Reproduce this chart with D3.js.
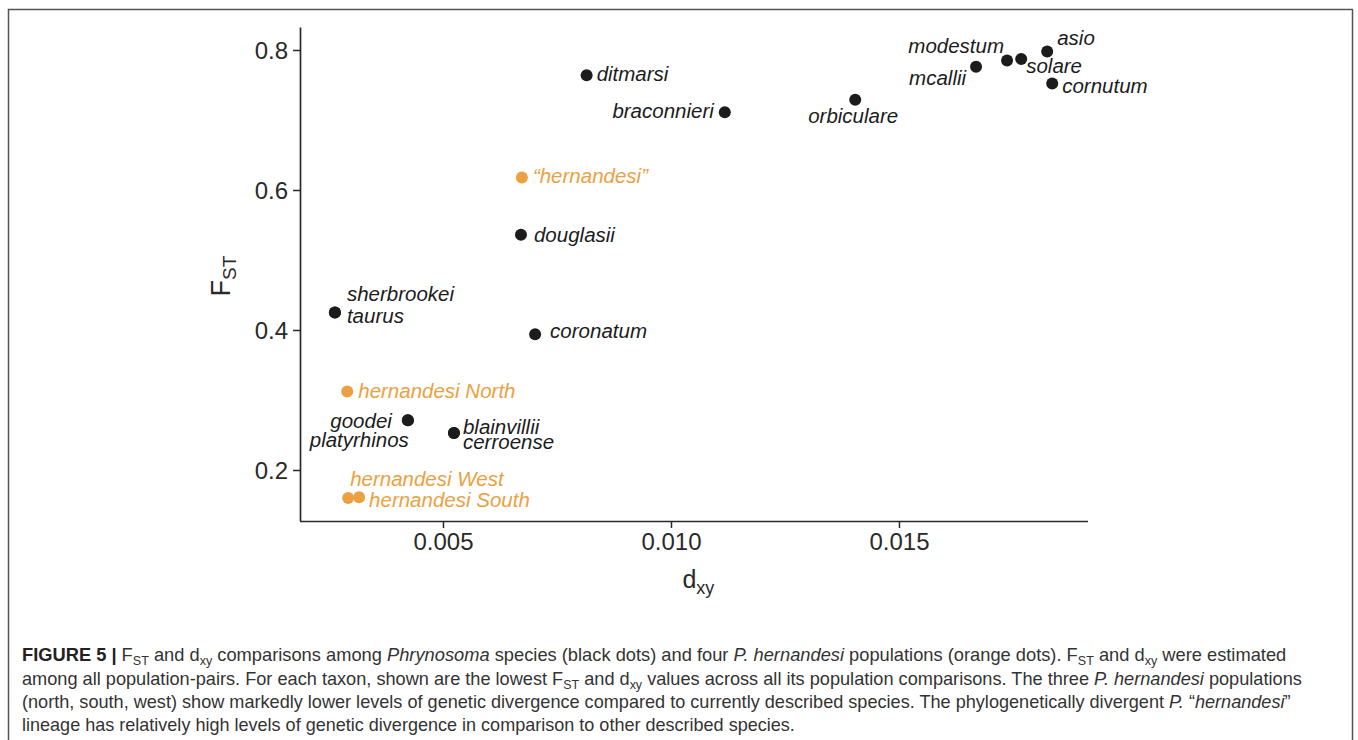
<!DOCTYPE html>
<html>
<head>
<meta charset="utf-8">
<script src="https://cdn.jsdelivr.net/npm/d3@7"></script>
<style>
  body { margin: 0; background: #fff; }
  svg { display: block; }
</style>
</head>
<body>
<div id="chart-area"></div>
<script>
// data
var taxa = ["ditmarsi", "braconnieri", "orbiculare", "mcallii", "modestum", "solare", "asio", "cornutum",
            "\u201chernandesi\u201d", "douglasii", "sherbrookei", "taurus", "coronatum", "hernandesi North",
            "goodei", "platyrhinos", "blainvillii", "cerroense", "hernandesi West", "hernandesi South"];
var dxy = [0.00815, 0.01118, 0.01404, 0.01669, 0.01737, 0.01768, 0.01825, 0.01836,
           0.00673, 0.00671, 0.00263, 0.00263, 0.00702, 0.00290,
           0.00423, 0.00423, 0.00524, 0.00524, 0.00292, 0.00316];
var fst = [0.764, 0.711, 0.729, 0.776, 0.785, 0.787, 0.798, 0.752,
           0.618, 0.536, 0.425, 0.425, 0.394, 0.312,
           0.271, 0.271, 0.253, 0.253, 0.160, 0.161];
var group = ["species", "species", "species", "species", "species", "species", "species", "species",
             "hernandesi", "species", "species", "species", "species", "hernandesi",
             "species", "species", "species", "species", "hernandesi", "hernandesi"];
var xTicks = [0.005, 0.010, 0.015];
var yTicks = [0.2, 0.4, 0.6, 0.8];

// label placement next to each dot: [dx, dy, anchor]
var labelPos = {
    "ditmarsi": [10, 6, "start"],
    "braconnieri": [-11, 6, "end"],
    "orbiculare": [-2, 23, "middle"],
    "mcallii": [-10, 18, "end"],
    "modestum": [-3, -8, "end"],
    "solare": [5, 14, "start"],
    "asio": [10, -6, "start"],
    "cornutum": [10, 9, "start"],
    "\u201chernandesi\u201d": [11, 6, "start"],
    "douglasii": [13, 7, "start"],
    "sherbrookei": [12, -11, "start"],
    "taurus": [12, 11, "start"],
    "coronatum": [15, 4, "start"],
    "hernandesi North": [11, 6, "start"],
    "goodei": [-16, 8, "end"],
    "platyrhinos": [1, 27, "end"],
    "blainvillii": [9, 1, "start"],
    "cerroense": [9, 16, "start"],
    "hernandesi West": [2, -12, "start"],
    "hernandesi South": [10, 10, "start"]
};

var colors = { species: "#1c1c1c", hernandesi: "#eba142" };

var data = taxa.map(function (t, i) {
    return { name: t, dxy: dxy[i], fst: fst[i], group: group[i] };
});

var W = 1358, H = 740;
var margin = { left: 300, right: 270, top: 27, bottom: 219 };
var width = W - margin.left - margin.right;
var height = H - margin.top - margin.bottom;

var svg = d3.select("#chart-area").append("svg")
    .attr("width", W)
    .attr("height", H);

// outer frame
svg.append("rect")
    .attr("x", 8.5).attr("y", 9.5)
    .attr("width", 1344).attr("height", 740)
    .attr("fill", "none")
    .attr("stroke", "#555")
    .attr("stroke-width", 1.5);

var g = svg.append("g")
    .attr("transform", "translate(" + margin.left + "," + margin.top + ")");

var x = d3.scaleLinear()
    .domain([0.001864, 0.019145])
    .range([0, width]);
var y = d3.scaleLinear()
    .domain([0.12714, 0.83286])
    .range([height, 0]);

var xAxis = d3.axisBottom(x).tickValues(xTicks).tickFormat(d3.format(".3f")).tickSize(7).tickPadding(5);
var yAxis = d3.axisLeft(y).tickValues(yTicks).tickFormat(d3.format(".1f")).tickSize(7).tickPadding(5);

var gx = g.append("g")
    .attr("class", "x-axis")
    .attr("transform", "translate(0," + height + ")")
    .call(xAxis);
var gy = g.append("g")
    .attr("class", "y-axis")
    .call(yAxis);

[gx, gy].forEach(function (a) {
    a.select(".domain").attr("stroke", "#2a2a2a").attr("stroke-width", 1.7);
    a.selectAll(".tick line").attr("stroke", "#2a2a2a").attr("stroke-width", 1.5);
    a.selectAll(".tick text")
        .attr("fill", "#2a2a2a")
        .attr("font-family", "'Liberation Sans', Arial, sans-serif")
        .attr("font-size", "24px");
});
gy.select(".domain").attr("d", "M0.5," + height + "V0.5");
gx.select(".domain").attr("d", "M0," + 0.5 + "H" + width);
gy.selectAll(".tick text").attr("dy", "0.36em");

// axis titles
var ft = g.append("text")
    .attr("transform", "translate(-70,249) rotate(-90)")
    .attr("text-anchor", "middle")
    .attr("font-family", "'Liberation Sans', Arial, sans-serif")
    .attr("fill", "#2a2a2a")
    .attr("font-size", "27px");
ft.append("tspan").text("F");
ft.append("tspan").attr("dy", 6).attr("font-size", "19px").text("ST");

var dt = g.append("text")
    .attr("x", x(0.0106))
    .attr("y", height + 67)
    .attr("text-anchor", "middle")
    .attr("font-family", "'Liberation Sans', Arial, sans-serif")
    .attr("fill", "#2a2a2a")
    .attr("font-size", "25px");
dt.append("tspan").text("d");
dt.append("tspan").attr("dy", 6).attr("font-size", "18px").text("xy");

// points
g.selectAll("circle.pt")
    .data(data)
    .enter().append("circle")
    .attr("class", "pt")
    .attr("cx", function (d) { return x(d.dxy); })
    .attr("cy", function (d) { return y(d.fst); })
    .attr("r", 6)
    .attr("fill", function (d) { return colors[d.group]; });

g.selectAll("text.lbl")
    .data(data)
    .enter().append("text")
    .attr("class", "lbl")
    .attr("x", function (d) { return x(d.dxy) + labelPos[d.name][0]; })
    .attr("y", function (d) { return y(d.fst) + labelPos[d.name][1]; })
    .attr("text-anchor", function (d) { return labelPos[d.name][2]; })
    .attr("font-family", "'Liberation Sans', Arial, sans-serif")
    .attr("font-style", "italic")
    .attr("font-size", "20.5px")
    .attr("fill", function (d) { return colors[d.group]; })
    .text(function (d) { return d.name; });

// caption
var captionLines = [
    [["FIGURE 5 | ", "b"], ["F", ""], ["ST", "sub"], [" and d", ""], ["xy", "sub"], [" comparisons among ", ""], ["Phrynosoma", "i"],
     [" species (black dots) and four ", ""], ["P. hernandesi", "i"], [" populations (orange dots). F", ""], ["ST", "sub"],
     [" and d", ""], ["xy", "sub"], [" were estimated", ""]],
    [["among all population-pairs. For each taxon, shown are the lowest F", ""], ["ST", "sub"], [" and d", ""], ["xy", "sub"],
     [" values across all its population comparisons. The three ", ""], ["P. hernandesi", "i"], [" populations", ""]],
    [["(north, south, west) show markedly lower levels of genetic divergence compared to currently described species. The phylogenetically divergent ", ""],
     ["P.", "i"], [" \u201c", ""], ["hernandesi", "i"], ["\u201d", ""]],
    [["lineage has relatively high levels of genetic divergence in comparison to other described species.", ""]]
];
var captionBase = [661, 685, 708, 731];
var captionWidth = [1265, 1281, 1270, 773];

captionLines.forEach(function (segs, li) {
    var t = svg.append("text")
        .attr("font-family", "'Liberation Sans Narrow', 'Liberation Sans', Arial, sans-serif")
        .attr("font-size", "17.5px")
        .attr("fill", "#333");
    var shifted = false;
    segs.forEach(function (s) {
        var sp = t.append("tspan").text(s[0]);
        if (s[1] === "b") sp.attr("font-weight", "bold").attr("fill", "#222");
        if (s[1] === "i") sp.attr("font-style", "italic");
        if (s[1] === "sub") {
            sp.attr("dy", 4).attr("font-size", "12px");
            shifted = true;
        } else if (shifted) {
            sp.attr("dy", -4);
            shifted = false;
        }
    });
    var w = t.node().getComputedTextLength();
    var k = captionWidth[li] / w;
    t.attr("transform", "translate(22," + captionBase[li] + ") scale(" + k + ",1)");
});
</script>
</body>
</html>
